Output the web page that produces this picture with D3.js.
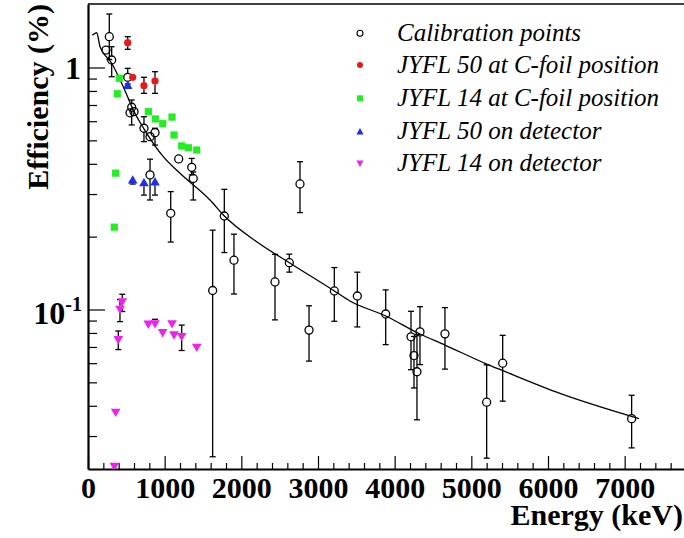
<!DOCTYPE html>
<html>
<head>
<meta charset="utf-8">
<script src="https://cdn.jsdelivr.net/npm/d3@7"></script>
<style>
  html, body { margin: 0; padding: 0; background: #fff; }
  svg { display: block; }
  text { font-family: "Liberation Serif", "Times New Roman", serif; }
</style>
</head>
<body>
<svg id="chart" width="684" height="538"></svg>
<script>
// Calibration points: energy (keV), efficiency (%), lower and upper error bounds
const calEnergy = [278, 235, 309, 518, 570, 600, 548, 730, 874, 809, 1183, 1353, 1373, 809, 1079, 1778, 1626, 1904, 2765, 2439, 2626, 2883, 3213, 3513, 3883, 4213, 4252, 4330, 4291, 4656, 5200, 5409, 7091];
const calEff    = [1.341, 1.181, 1.074, 0.911, 0.685, 0.657, 0.650, 0.561, 0.538, 0.518, 0.419, 0.387, 0.348, 0.360, 0.2497, 0.2434, 0.1198, 0.1599, 0.3302, 0.1300, 0.1561, 0.0822, 0.1193, 0.1137, 0.0958, 0.0771, 0.0645, 0.0808, 0.0553, 0.0793, 0.0414, 0.0600, 0.0354];
const calLow    = [1.080, 1.181, 0.916, 0.855, 0.579, 0.657, 0.650, 0.494, 0.478, 0.518, 0.419, 0.360, 0.2835, 0.2835, 0.190, 0.1719, 0.02463, 0.1159, 0.2515, 0.0906, 0.1427, 0.0612, 0.0894, 0.0847, 0.0716, 0.0564, 0.0474, 0.0592, 0.0350, 0.0567, 0.0243, 0.0418, 0.0268];
const calHigh   = [1.664, 1.181, 1.219, 0.992, 0.734, 0.657, 0.650, 0.626, 0.561, 0.518, 0.419, 0.421, 0.370, 0.418, 0.307, 0.3137, 0.2127, 0.2047, 0.4081, 0.1690, 0.1693, 0.1036, 0.1490, 0.1426, 0.1205, 0.0983, 0.0774, 0.1027, 0.0787, 0.1018, 0.0591, 0.0782, 0.0442];

// JYFL 50 at C-foil position
const j50FoilEnergy = [518, 583, 730, 874];
const j50FoilEff    = [1.266, 0.911, 0.841, 0.880];
const j50FoilLow    = [1.189, 0.890, 0.782, 0.782];
const j50FoilHigh   = [1.341, 0.935, 0.911, 0.961];

// JYFL 14 at C-foil position
const j14FoilEnergy = [408, 382, 787, 878, 974, 1096, 1122, 1222, 1309, 1418, 361, 343];
const j14FoilEff    = [0.903, 0.779, 0.657, 0.613, 0.586, 0.624, 0.526, 0.474, 0.466, 0.456, 0.366, 0.2189];

// JYFL 50 on detector
const j50DetEnergy = [518, 583, 730, 874];
const j50DetEff    = [0.844, 0.343, 0.334, 0.337];
const j50DetLow    = [0.844, 0.330, 0.297, 0.297];
const j50DetHigh   = [0.844, 0.343, 0.334, 0.337];

// JYFL 14 on detector
const j14DetEnergy = [447, 417, 395, 361, 343, 787, 874, 974, 1096, 1122, 1222, 1418];
const j14DetEff    = [0.1076, 0.1002, 0.0751, 0.0376, 0.0225, 0.0870, 0.0873, 0.0802, 0.0873, 0.0785, 0.0773, 0.0698];
const j14DetLow    = [0.0981, 0.0891, 0.0683, 0.0376, 0.0225, 0.0870, 0.0873, 0.0802, 0.0873, 0.0785, 0.0677, 0.0698];
const j14DetHigh   = [0.1156, 0.1099, 0.0815, 0.0376, 0.0225, 0.0870, 0.0911, 0.0802, 0.0873, 0.0785, 0.0862, 0.0698];

// Efficiency fit curve sampled along energy
const fitEnergy = [56, 113, 157, 309, 460, 591, 766, 982, 1200, 1591, 1778, 2200, 2626, 3213, 3417, 3883, 4330, 4656, 5200, 5409, 6156, 7187];
const fitEff    = [1.36, 1.392, 1.219, 1.041, 0.833, 0.6676, 0.5347, 0.4280, 0.3653, 0.2835, 0.2434, 0.1906, 0.1561, 0.1193, 0.1084, 0.0940, 0.0792, 0.0713, 0.0595, 0.0559, 0.0450, 0.0354];

// Axis ticks
const xMajorTicks = [0, 1000, 2000, 3000, 4000, 5000, 6000, 7000];
const xMinorTicks = d3.range(0, 7800, 200).filter(v => v % 1000 !== 0);
const yMajorTicks = [1, 0.1];
const yMinorTicks = [0.03, 0.04, 0.05, 0.06, 0.07, 0.08, 0.09, 0.2, 0.3, 0.4, 0.5, 0.6, 0.7, 0.8, 0.9];

const legendLabels = ["Calibration points", "JYFL 50 at C-foil position", "JYFL 14 at C-foil position", "JYFL 50 on detector", "JYFL 14 on detector"];

const svg = d3.select("#chart");
const plotLeft = 88, plotRight = 686, plotTop = 4, plotBottom = 469;

const x = d3.scaleLinear().domain([0, 7800]).range([plotLeft, plotRight]);
const y = d3.scaleLog().domain([0.02192, 1.83]).range([plotBottom, plotTop]);

const clipId = "plotclip";
svg.append("defs").append("clipPath").attr("id", clipId)
  .append("rect").attr("x", plotLeft).attr("y", plotTop)
  .attr("width", plotRight - plotLeft).attr("height", plotBottom - plotTop);

// frame top line
svg.append("line")
  .attr("x1", plotLeft).attr("x2", plotRight).attr("y1", plotTop).attr("y2", plotTop)
  .attr("stroke", "#000").attr("stroke-width", 1.5);

// x axis: major and minor ticks pointing into the plot
const xMajor = svg.append("g").attr("transform", `translate(0,${plotBottom})`)
  .call(d3.axisBottom(x).tickValues(xMajorTicks).tickSizeInner(-13).tickSizeOuter(0).tickPadding(8).tickFormat(d3.format("d")));
xMajor.select(".domain").attr("stroke-width", 2.2);
xMajor.selectAll(".tick line").attr("stroke-width", 1.2);
xMajor.selectAll(".tick text")
  .attr("font-family", "Liberation Serif, Times New Roman, serif")
  .attr("font-weight", "bold").attr("font-size", 30).attr("fill", "#000");

const xMinor = svg.append("g").attr("transform", `translate(0,${plotBottom})`)
  .call(d3.axisBottom(x).tickValues(xMinorTicks).tickSizeInner(-6).tickSizeOuter(0).tickFormat(""));
xMinor.select(".domain").remove();
xMinor.selectAll(".tick line").attr("stroke-width", 1.2);

// y axis: log scale with inward ticks
const yMajor = svg.append("g").attr("transform", `translate(${plotLeft},0)`)
  .call(d3.axisLeft(y).tickValues(yMajorTicks).tickSizeInner(-17).tickSizeOuter(0).tickFormat(""));
yMajor.select(".domain").attr("stroke-width", 2.2);
yMajor.selectAll(".tick line").attr("stroke-width", 1.2);

const yMinor = svg.append("g").attr("transform", `translate(${plotLeft},0)`)
  .call(d3.axisLeft(y).tickValues(yMinorTicks).tickSizeInner(-9).tickSizeOuter(0).tickFormat(""));
yMinor.select(".domain").remove();
yMinor.selectAll(".tick line").attr("stroke-width", 1.2);

// y tick labels: 1 and 10^-1
const yLab = svg.append("g").attr("font-weight", "bold").attr("fill", "#000");
yLab.append("text").attr("x", 81).attr("y", y(1) + 11).attr("text-anchor", "end")
  .attr("font-size", 32).text("1");
const tenth = yLab.append("text").attr("x", 82).attr("y", y(0.1) + 15).attr("text-anchor", "end")
  .attr("font-size", 32);
tenth.append("tspan").text("10");
tenth.append("tspan").attr("font-size", 20).attr("dy", -13).text("-1");

// axis titles
svg.append("text").attr("x", 683).attr("y", 525).attr("text-anchor", "end")
  .attr("font-weight", "bold").attr("font-size", 30).text("Energy (keV)");
svg.append("text").attr("transform", "translate(48,4) rotate(-90)").attr("text-anchor", "end")
  .attr("font-weight", "bold").attr("font-size", 30).text("Efficiency (%)");

const g = svg.append("g").attr("clip-path", `url(#${clipId})`);

// fit curve
const line = d3.line().x(d => x(d[0])).y(d => y(d[1])).curve(d3.curveMonotoneX);
g.append("path")
  .datum(fitEnergy.map((e, i) => [e, fitEff[i]]))
  .attr("d", line).attr("fill", "none").attr("stroke", "#000").attr("stroke-width", 1.3);

// error bars with caps, leaving a gap around the marker
function errorBars(energy, eff, low, high, gap, color) {
  const data = energy.map((e, i) => ({ e, v: eff[i], lo: low[i], hi: high[i] }));
  const eb = g.append("g").attr("stroke", color).attr("stroke-width", 1.3).attr("fill", "none");
  data.forEach(d => {
    const cx = x(d.e), cy = y(d.v), yl = y(d.lo), yh = y(d.hi);
    if (cy - yh > gap) {
      eb.append("line").attr("x1", cx).attr("x2", cx).attr("y1", yh).attr("y2", cy - gap);
      eb.append("line").attr("x1", cx - 3).attr("x2", cx + 3).attr("y1", yh).attr("y2", yh);
    }
    if (yl - cy > gap) {
      eb.append("line").attr("x1", cx).attr("x2", cx).attr("y1", cy + gap).attr("y2", yl);
      eb.append("line").attr("x1", cx - 3).attr("x2", cx + 3).attr("y1", yl).attr("y2", yl);
    }
  });
}

errorBars(calEnergy, calEff, calLow, calHigh, 4, "#000");
errorBars(j50FoilEnergy, j50FoilEff, j50FoilLow, j50FoilHigh, 3.5, "#000");
errorBars(j50DetEnergy, j50DetEff, j50DetLow, j50DetHigh, 3.5, "#000");
errorBars(j14DetEnergy, j14DetEff, j14DetLow, j14DetHigh, 3.5, "#000");

// marker shapes
const tri = s => `M0,${-s * 0.6}L${s * 0.6},${s * 0.45}L${-s * 0.6},${s * 0.45}Z`;
const triDown = s => `M0,${s * 0.6}L${s * 0.6},${-s * 0.45}L${-s * 0.6},${-s * 0.45}Z`;

g.append("g").selectAll("circle").data(calEnergy).join("circle")
  .attr("cx", (e) => x(e)).attr("cy", (e, i) => y(calEff[i])).attr("r", 4)
  .attr("fill", "none").attr("stroke", "#000").attr("stroke-width", 1.3);

g.append("g").selectAll("circle").data(j50FoilEnergy).join("circle")
  .attr("cx", e => x(e)).attr("cy", (e, i) => y(j50FoilEff[i])).attr("r", 3.6)
  .attr("fill", "#e8191b");

g.append("g").selectAll("rect").data(j14FoilEnergy).join("rect")
  .attr("x", e => x(e) - 3.6).attr("y", (e, i) => y(j14FoilEff[i]) - 3.6)
  .attr("width", 7.2).attr("height", 7.2).attr("fill", "#22ee22");

g.append("g").selectAll("path").data(j50DetEnergy).join("path")
  .attr("transform", (e, i) => `translate(${x(e)},${y(j50DetEff[i])})`)
  .attr("d", tri(8)).attr("fill", "#1f2fe8");

g.append("g").selectAll("path").data(j14DetEnergy).join("path")
  .attr("transform", (e, i) => `translate(${x(e)},${y(j14DetEff[i])})`)
  .attr("d", triDown(8)).attr("fill", "#f020f0");

// legend
const legendY = [33.3, 65, 98.3, 131.7, 163.3];
const lg = svg.append("g");
lg.selectAll("text").data(legendLabels).join("text")
  .attr("x", 397).attr("y", (d, i) => legendY[i] + 7.5)
  .attr("font-style", "italic").attr("font-size", 25).attr("fill", "#000").text(d => d);
const mx = 360;
lg.append("circle").attr("cx", mx).attr("cy", legendY[0]).attr("r", 3)
  .attr("fill", "none").attr("stroke", "#000").attr("stroke-width", 1.1);
lg.append("circle").attr("cx", mx).attr("cy", legendY[1]).attr("r", 3).attr("fill", "#e8191b");
lg.append("rect").attr("x", mx - 3).attr("y", legendY[2] - 3).attr("width", 6).attr("height", 6).attr("fill", "#22ee22");
lg.append("path").attr("transform", `translate(${mx},${legendY[3]})`).attr("d", tri(6)).attr("fill", "#1f2fe8");
lg.append("path").attr("transform", `translate(${mx},${legendY[4]})`).attr("d", triDown(6)).attr("fill", "#f020f0");
</script>
</body>
</html>
